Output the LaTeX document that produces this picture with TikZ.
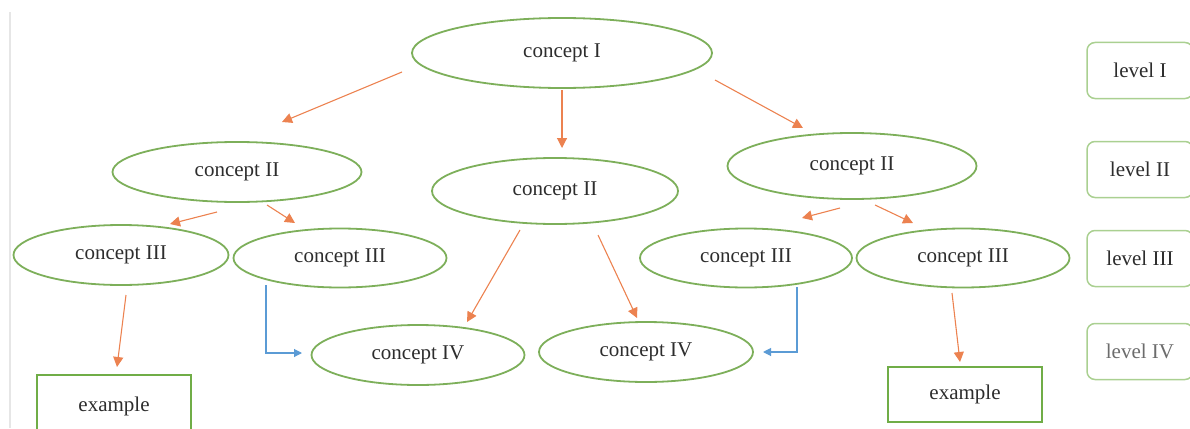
\documentclass[tikz,border=0pt]{standalone}
\usepackage{fontspec}
\setmainfont{Liberation Serif}
\usetikzlibrary{shapes.geometric,arrows.meta,calc}
\definecolor{egreen}{RGB}{125,175,90}
\definecolor{lgreen}{RGB}{170,208,145}
\definecolor{bgreen}{RGB}{112,173,71}
\definecolor{oline}{RGB}{236,130,80}
\definecolor{blu}{RGB}{91,155,213}
\definecolor{txt}{RGB}{45,45,45}
\definecolor{bord}{RGB}{230,230,230}
\tikzset{
  concept/.style={ellipse, draw=egreen, line width=1.8pt, inner sep=0pt, text=txt,
    font=\fontsize{21}{25}\selectfont},
  levelbox/.style={rectangle, rounded corners=8pt, draw=lgreen, line width=1.5pt,
    minimum width=106pt, minimum height=56pt, inner sep=0pt, text=txt,
    font=\fontsize{21}{25}\selectfont},
  exbox/.style={rectangle, draw=bgreen, line width=2.2pt, minimum width=154pt,
    inner sep=0pt, text=txt, font=\fontsize{21}{25}\selectfont},
  oarr/.style={draw=oline, line width=1.1pt, -{Triangle[length=10pt,width=10pt]}},
  barr/.style={draw=blu, line width=1.1pt, -{Triangle[length=8pt,width=8pt]}}
}
\begin{document}
\begin{tikzpicture}[x=1pt,y=-1pt]
\useasboundingbox (0,0) rectangle (1190,428);
\clip (0,0) rectangle (1190,428);
\draw[bord, line width=2pt] (10,12) -- (10,428);
% concepts
\node[concept, minimum width=300pt, minimum height=70pt] (cI) at (562,53) {concept I};
\node[concept, minimum width=249pt, minimum height=60pt] (cIIa) at (237,172) {concept II};
\node[concept, minimum width=246pt, minimum height=66pt] (cIIb) at (555,191) {concept II};
\node[concept, minimum width=249pt, minimum height=66pt] (cIIc) at (852,166) {concept II};
\node[concept, minimum width=215pt, minimum height=60pt] (cIIIa) at (121,255) {concept III};
\node[concept, minimum width=213pt, minimum height=59pt] (cIIIb) at (340,258) {concept III};
\node[concept, minimum width=212pt, minimum height=59pt] (cIIIc) at (746,258) {concept III};
\node[concept, minimum width=213pt, minimum height=59pt] (cIIId) at (963,258) {concept III};
\node[concept, minimum width=213pt, minimum height=60pt] (cIVa) at (418,355) {concept IV};
\node[concept, minimum width=214pt, minimum height=60pt] (cIVb) at (646,352) {concept IV};
% examples
\node[exbox, minimum height=62pt] (exa) at (114,406) {example};
\node[exbox, minimum height=55pt] (exb) at (965,394.5) {example};
% levels
\node[levelbox] (lI) at (1140,70.5) {level I};
\node[levelbox] (lII) at (1140,169.5) {level II};
\node[levelbox] (lIII) at (1140,258.5) {level III};
\node[levelbox, text=txt!70] (lIV) at (1140,351.5) {level IV};
% orange connectors
\draw[oarr] ($(cI)+(-160,19)$) -- ($(cIIa)+(45,-50)$);
\draw[oarr] ($(cI)+(0,37)$) -- ($(cIIb)+(7,-43)$);
\draw[oarr] ($(cI)+(153,27)$) -- ($(cIIc)+(-49,-38)$);
\draw[oarr] ($(cIIa)+(-20,40)$) -- ($(cIIIa)+(49,-31)$);
\draw[oarr] ($(cIIa)+(30,33)$) -- ($(cIIIb)+(-45,-35)$);
\draw[oarr] ($(cIIb)+(-35,39)$) -- ($(cIVa)+(49,-33)$);
\draw[oarr] ($(cIIb)+(43,44)$) -- ($(cIVb)+(-9,-34)$);
\draw[oarr] ($(cIIc)+(-12,42)$) -- ($(cIIIc)+(56,-40)$);
\draw[oarr] ($(cIIc)+(23,39)$) -- ($(cIIId)+(-50,-35)$);
\draw[oarr] ($(cIIIa)+(5,40)$) -- ($(exa)+(3,-39)$);
\draw[oarr] ($(cIIId)+(-11,35)$) -- ($(exb)+(-5,-32.5)$);
% blue connectors
\draw[barr] ($(cIIIb)+(-74,27)$) |- ($(cIVa)+(-116,-2)$);
\draw[barr] ($(cIIIc)+(51,29)$) |- ($(cIVb)+(117,0)$);
\end{tikzpicture}
\end{document}
